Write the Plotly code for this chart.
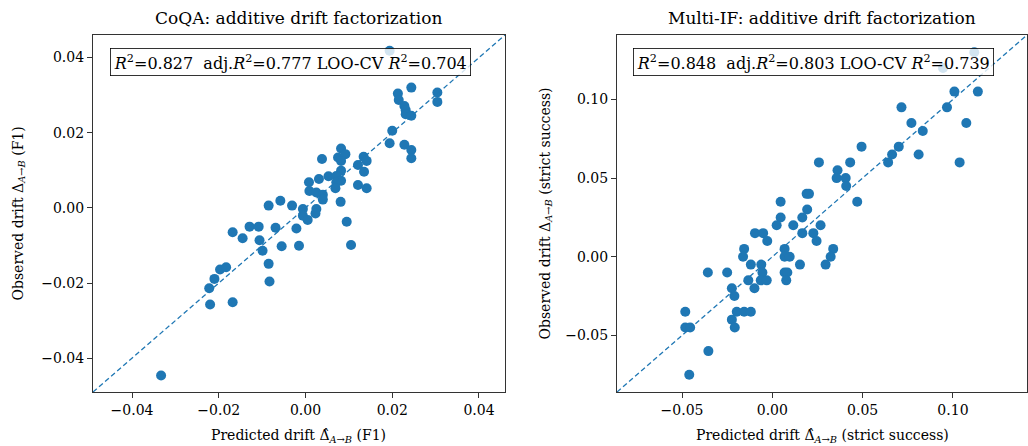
import plotly.graph_objects as go

# ---------------- data ----------------
coqa_pred = [0.0194, 0.0213, 0.0244, 0.0304, 0.0304, 0.0215, 0.0228, 0.0231, 0.0231, 0.0244,
             0.0200, 0.0194, 0.0228, 0.0244, 0.0244, 0.0082, 0.0075, 0.0092, 0.0038, 0.0082,
             0.0134, 0.0141, 0.0121, 0.0135, 0.0082, 0.0031, 0.0053, 0.0071, 0.0082, 0.0071,
             0.0069, 0.0008, 0.0009, 0.0025, 0.0040, 0.0040, 0.0121, 0.0141, 0.0081, -0.0085,
             -0.0058, -0.0031, -0.0006, 0.0025, 0.0023, -0.0006, 0.0005, 0.0095, -0.0129, -0.0108,
             -0.0069, -0.0021, -0.0168, -0.0145, -0.0106, -0.0099, -0.0055, -0.0015, 0.0105, -0.0085,
             -0.0083, -0.0197, -0.0183, -0.0210, -0.0222, -0.0220, -0.0168, -0.0333]
coqa_obs = [0.0418, 0.0304, 0.0320, 0.0307, 0.0282, 0.0287, 0.0271, 0.0260, 0.0249, 0.0245,
            0.0205, 0.0172, 0.0168, 0.0154, 0.0132, 0.0158, 0.0134, 0.0143, 0.0130, 0.0125,
            0.0136, 0.0125, 0.0114, 0.0096, 0.0099, 0.0077, 0.0084, 0.0085, 0.0072, 0.0068,
            0.0052, 0.0068, 0.0045, 0.0041, 0.0035, 0.0022, 0.0061, 0.0052, 0.0016, 0.0006,
            0.0019, 0.0006, -0.0003, -0.0003, -0.0015, -0.0021, -0.0032, -0.0037, -0.0050, -0.0050,
            -0.0053, -0.0055, -0.0065, -0.0081, -0.0086, -0.0114, -0.0102, -0.0101, -0.0099, -0.0149,
            -0.0196, -0.0164, -0.0158, -0.0189, -0.0214, -0.0257, -0.0251, -0.0446]

mif_pred = [0.1118, 0.0945, 0.1008, 0.1138, 0.0967, 0.1074, 0.0715, 0.0770, 0.0833, 0.1037,
            0.0810, 0.0700, 0.0663, 0.0641, 0.0494, 0.0431, 0.0258, 0.0361, 0.0356, 0.0406,
            0.0409, 0.0190, 0.0203, 0.0470, 0.0193, 0.0046, 0.0046, 0.0166, 0.0116, 0.0024,
            0.0267, -0.0096, -0.0051, -0.0028, 0.0166, 0.0227, 0.0245, 0.0068, 0.0337, 0.0068,
            0.0096, 0.0323, 0.0153, 0.0295, -0.0156, -0.0162, -0.0119, -0.0061, -0.0055, 0.0068,
            0.0083, 0.0077, -0.0133, -0.0064, -0.0031, -0.0099, -0.0357, -0.0250, -0.0224, -0.0210,
            -0.0197, -0.0156, -0.0119, -0.0224, -0.0208, -0.0482, -0.0482, -0.0455, -0.0354, -0.0460]
mif_obs = [0.130, 0.120, 0.105, 0.105, 0.095, 0.085, 0.095, 0.085, 0.080, 0.060,
           0.065, 0.070, 0.065, 0.060, 0.070, 0.060, 0.060, 0.055, 0.050, 0.050,
           0.045, 0.040, 0.040, 0.035, 0.030, 0.035, 0.025, 0.025, 0.020, 0.020,
           0.020, 0.015, 0.015, 0.010, 0.015, 0.015, 0.010, 0.005, 0.005, 0.000,
           0.000, 0.000, -0.005, -0.005, 0.005, 0.000, -0.005, -0.005, -0.010, -0.010,
           -0.010, -0.015, -0.015, -0.015, -0.015, -0.020, -0.010, -0.010, -0.020, -0.025,
           -0.035, -0.035, -0.035, -0.040, -0.045, -0.035, -0.045, -0.045, -0.060, -0.075]

coqa_lim = [-0.0490, 0.0460]
mif_lim = [-0.0860, 0.1410]

titles = ["CoQA: additive drift factorization", "Multi-IF: additive drift factorization"]
stats = ["<i>R</i><sup>2</sup>=0.827  adj.<i>R</i><sup>2</sup>=0.777 LOO-CV <i>R</i><sup>2</sup>=0.704",
         "<i>R</i><sup>2</sup>=0.848  adj.<i>R</i><sup>2</sup>=0.803 LOO-CV <i>R</i><sup>2</sup>=0.739"]
xlabels = ["Predicted drift Δ̂<sub><i>A</i>→<i>B</i></sub> (F1)",
           "Predicted drift Δ̂<sub><i>A</i>→<i>B</i></sub> (strict success)"]
ylabels = ["Observed drift Δ<sub><i>A</i>→<i>B</i></sub> (F1)",
           "Observed drift Δ<sub><i>A</i>→<i>B</i></sub> (strict success)"]

BLUE = "#1f77b4"
SERIF = "DejaVu Serif"

fig = go.Figure()

panels = [(coqa_pred, coqa_obs, coqa_lim, "x", "y"), (mif_pred, mif_obs, mif_lim, "x2", "y2")]
for px, oy, lim, xa, ya in panels:
    fig.add_trace(go.Scatter(x=px, y=oy, mode="markers", xaxis=xa, yaxis=ya,
                             marker=dict(color=BLUE, size=10, line=dict(width=0)),
                             showlegend=False))
    fig.add_trace(go.Scatter(x=lim, y=lim, mode="lines", xaxis=xa, yaxis=ya,
                             line=dict(color=BLUE, width=1.3, dash="5px,3px"),
                             showlegend=False))

W, H = 1028, 446
dom_l = [93 / W, 505 / W]
dom_r = [617 / W, 1027 / W]
dom_y = [(H - 392) / H, (H - 35) / H]

axis_common = dict(showline=True, linecolor="#333333", linewidth=1.2, mirror=True,
                   ticks="outside", ticklen=5, tickwidth=1, tickcolor="#333333",
                   showgrid=False, zeroline=False, tickformat=".2f",
                   tickfont=dict(family=SERIF, size=14, color="black"))

fig.update_layout(
    width=W, height=H,
    margin=dict(l=0, r=0, t=0, b=0),
    paper_bgcolor="white", plot_bgcolor="white",
    xaxis=dict(domain=dom_l, range=coqa_lim, dtick=0.02, anchor="y", **axis_common),
    yaxis=dict(domain=dom_y, range=coqa_lim, dtick=0.02, anchor="x", **axis_common),
    xaxis2=dict(domain=dom_r, range=mif_lim, dtick=0.05, anchor="y2", **axis_common),
    yaxis2=dict(domain=dom_y, range=mif_lim, dtick=0.05, anchor="x2", **axis_common),
)

ann = []
centers = [(dom_l[0] + dom_l[1]) / 2, (dom_r[0] + dom_r[1]) / 2]
ylab_x = [18 / W, 545 / W]
box_x = [110 / W, 633 / W]
for i in range(2):
    ann.append(dict(text=titles[i], x=centers[i], y=(H - 18) / H, xref="paper", yref="paper",
                    showarrow=False, font=dict(family=SERIF, size=17, color="black"),
                    xanchor="center", yanchor="middle"))
    ann.append(dict(text=xlabels[i], x=centers[i], y=(H - 436) / H, xref="paper", yref="paper",
                    showarrow=False, font=dict(family=SERIF, size=14, color="black"),
                    xanchor="center", yanchor="middle"))
    ann.append(dict(text=ylabels[i], x=ylab_x[i], y=(dom_y[0] + dom_y[1]) / 2, xref="paper",
                    yref="paper", showarrow=False, textangle=-90,
                    font=dict(family=SERIF, size=14, color="black"),
                    xanchor="center", yanchor="middle"))
    ann.append(dict(text=stats[i], x=box_x[i], y=(H - 48) / H, xref="paper", yref="paper",
                    showarrow=False, font=dict(family=SERIF, size=16, color="black"),
                    xanchor="left", yanchor="top", bgcolor="rgba(255,255,255,0.8)",
                    bordercolor="black", borderwidth=0.8, borderpad=3))
fig.update_layout(annotations=ann)

fig.write_html("out.html", config={"displayModeBar": False},
               post_script="document.body.style.margin='0';document.body.style.overflow='hidden';")
